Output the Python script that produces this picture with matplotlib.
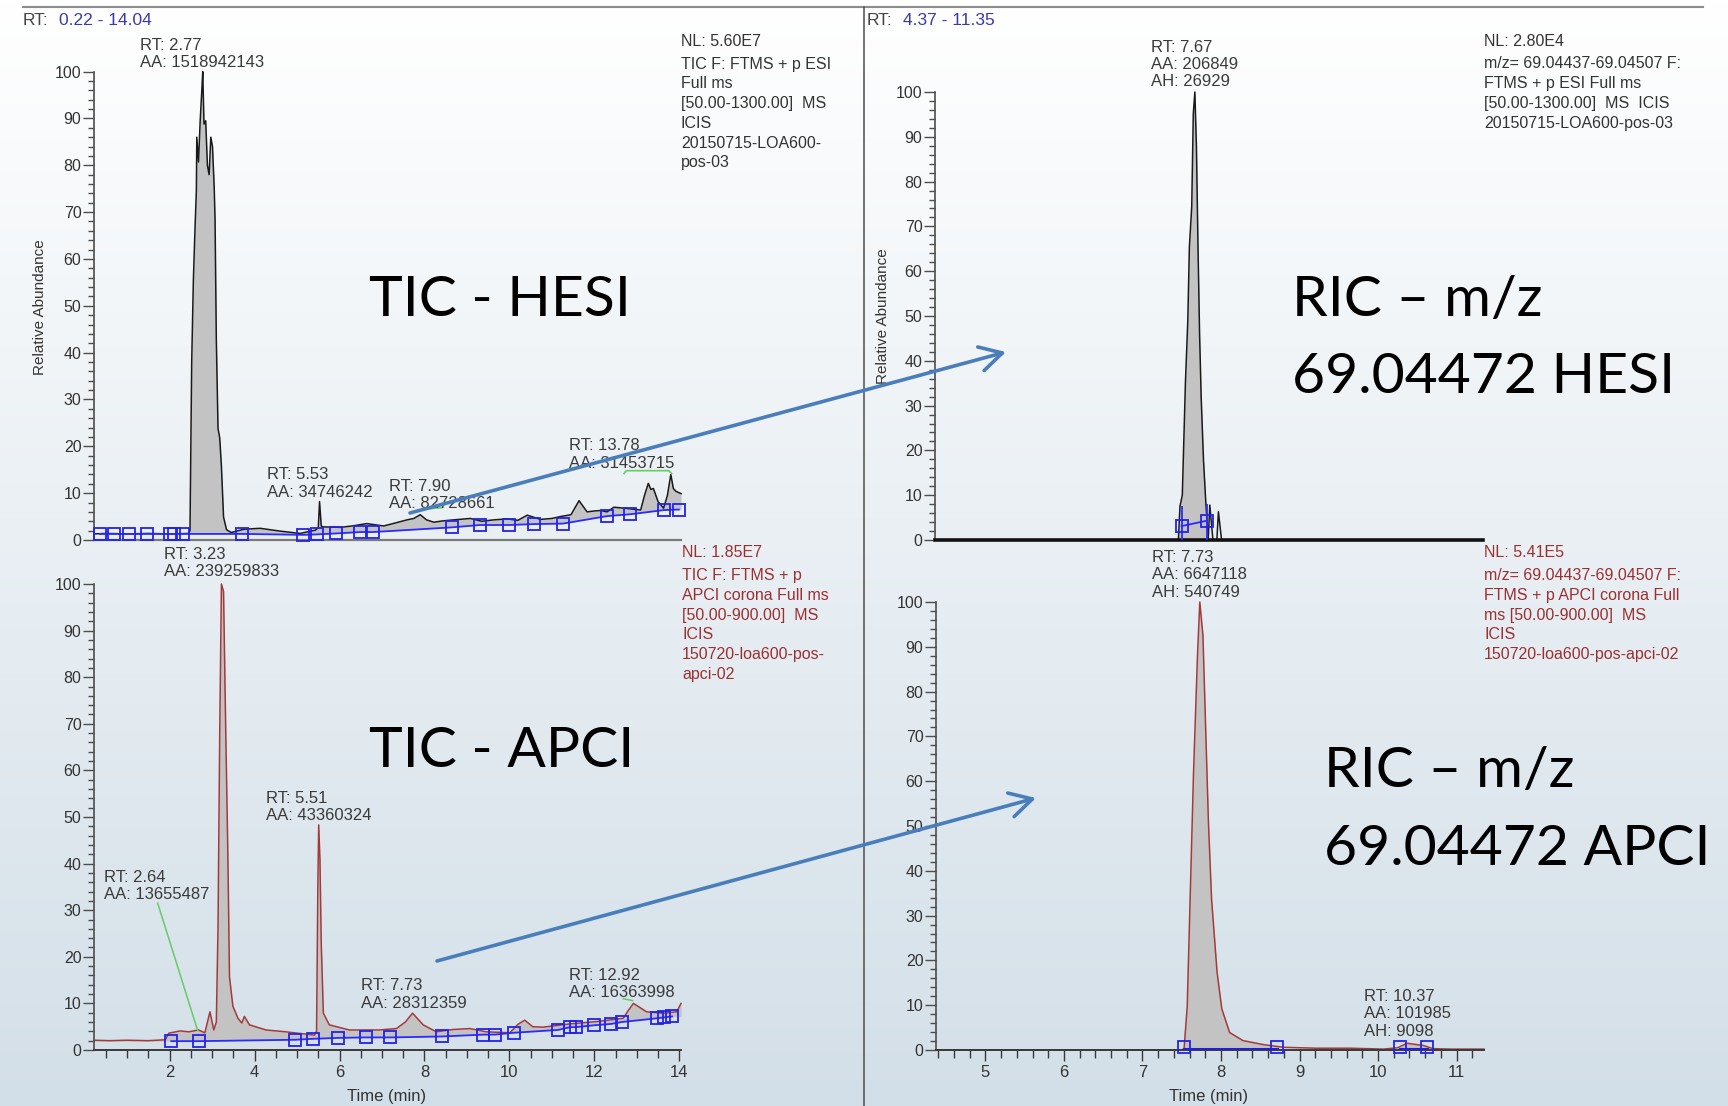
import matplotlib.pyplot as plt
import numpy as np
from matplotlib.colors import LinearSegmentedColormap
from matplotlib.lines import Line2D
from matplotlib.patches import FancyArrowPatch
from matplotlib.ticker import MultipleLocator

plt.rcParams['font.family'] = ['Liberation Sans', 'DejaVu Sans']

W, H = 1728, 1106

# TIC, HESI source (time in min, relative abundance in %)
hesi_tic_t = [0.22, 0.5, 1.0, 1.5, 2.0, 2.45, 2.48, 2.52, 2.56, 2.60, 2.63, 2.64, 2.68, 2.72,
              2.76, 2.78, 2.81, 2.85, 2.89, 2.93, 2.97, 3.01, 3.05, 3.07, 3.10, 3.14, 3.18,
              3.22, 3.27, 3.34, 3.45, 3.75, 4.13, 4.60, 5.07, 5.43, 5.50, 5.53, 5.57, 5.61,
              6.02, 6.30, 6.64, 7.04, 7.30, 7.59, 7.75, 7.90, 8.05, 8.22, 8.45, 8.69, 9.08,
              9.35, 9.63, 9.95, 10.20, 10.42, 10.73, 11.00, 11.20, 11.45, 11.64, 11.75, 11.83,
              12.00, 12.15, 12.30, 12.46, 12.70, 12.90, 13.09, 13.18, 13.27, 13.33, 13.39,
              13.50, 13.63, 13.72, 13.80, 13.86, 13.92, 14.04]
hesi_tic_v = [1.3, 1.4, 1.3, 1.4, 1.3, 1.4, 2.0, 38.0, 55.7, 67.0, 74.6, 86.0, 80.7, 89.5,
              96.3, 100.0, 88.8, 89.5, 80.0, 78.0, 86.0, 84.0, 75.3, 68.5, 42.8, 23.8, 21.8,
              15.7, 4.9, 2.2, 1.6, 2.3, 2.5, 1.9, 1.4, 2.1, 2.6, 8.2, 3.0, 2.8,
              2.7, 3.0, 3.5, 3.0, 3.6, 4.3, 4.6, 5.4, 4.3, 3.8, 4.1, 4.3, 4.6,
              4.0, 4.3, 4.5, 4.2, 5.3, 4.4, 4.6, 5.0, 5.4, 8.4, 7.0, 6.0,
              6.2, 6.3, 6.0, 7.0, 6.8, 6.6, 6.4, 9.5, 12.1, 10.8, 11.0,
              8.2, 6.8, 9.5, 14.0, 11.0, 10.4, 9.9]
hesi_tic_base_t = [0.36, 0.69, 1.04, 1.47, 2.01, 2.10, 2.32, 3.71, 5.15, 5.47, 5.92, 6.49,
                   6.79, 8.65, 9.30, 10.00, 10.58, 11.26, 12.30, 12.85, 13.65, 13.99]
hesi_tic_base_v = [1.3, 1.3, 1.3, 1.3, 1.3, 1.3, 1.3, 1.3, 1.1, 1.2, 1.4, 1.7,
                   1.7, 2.7, 3.2, 3.2, 3.4, 3.5, 5.1, 5.5, 6.4, 6.5]

# TIC, APCI source
apci_tic_t = [0.22, 0.6, 1.0, 1.5, 1.9, 1.98, 2.25, 2.45, 2.68, 2.83, 2.95, 3.04, 3.10, 3.14,
              3.18, 3.22, 3.27, 3.32, 3.37, 3.41, 3.49, 3.61, 3.70, 3.76, 3.88, 4.27, 4.74,
              5.41, 5.46, 5.49, 5.51, 5.54, 5.57, 5.62, 5.76, 6.23, 6.72, 6.93, 7.34, 7.55,
              7.72, 7.97, 8.28, 8.67, 9.07, 9.46, 10.01, 10.20, 10.36, 10.55, 10.79, 11.42,
              12.05, 12.68, 12.80, 12.92, 13.23, 13.62, 13.94, 14.04]
apci_tic_v = [2.1, 2.0, 2.1, 2.0, 2.2, 3.6, 4.1, 3.9, 4.3, 3.7, 8.2, 4.3, 6.0, 26.4,
              68.0, 100.0, 98.4, 69.4, 42.9, 15.7, 9.4, 6.8, 5.8, 7.2, 5.4, 4.3, 3.9,
              3.2, 4.0, 35.0, 48.3, 40.8, 22.9, 7.9, 5.4, 4.3, 4.3, 4.3, 4.6, 6.0,
              7.9, 5.4, 3.9, 4.4, 4.6, 3.9, 3.7, 5.5, 6.4, 5.0, 4.9, 5.6,
              6.1, 6.8, 8.5, 10.0, 8.2, 7.9, 8.2, 10.0]
apci_tic_base_t = [2.04, 2.69, 4.96, 5.38, 5.97, 6.62, 7.20, 8.41, 9.39, 9.65, 10.10, 11.14,
                   11.43, 11.56, 11.99, 12.40, 12.64, 13.47, 13.64, 13.83]
apci_tic_base_v = [1.9, 1.9, 2.2, 2.4, 2.6, 2.7, 2.7, 2.9, 3.3, 3.3, 3.7, 4.3,
                   4.9, 4.9, 5.3, 5.6, 6.0, 6.8, 7.0, 7.2]

# RIC m/z 69.04472, HESI source
hesi_ric_t = [4.37, 7.45, 7.47, 7.49, 7.52, 7.54, 7.56, 7.59, 7.61, 7.64, 7.66, 7.68, 7.70,
              7.72, 7.74, 7.76, 7.79, 7.82, 7.85, 7.87, 7.91, 7.96, 7.98, 8.02, 11.35]
hesi_ric_v = [0, 0, 0, 7.5, 10.0, 22.6, 35.3, 49.0, 65.4, 74.4, 95.2, 100.0, 87.8,
              65.4, 46.0, 32.0, 17.8, 8.2, 0, 7.8, 0, 0, 6.3, 0, 0]
hesi_ric_base_t = [7.51, 7.83]
hesi_ric_base_v = [3.1, 4.3]

# RIC m/z 69.04472, APCI source
apci_ric_t = [4.37, 7.50, 7.53, 7.57, 7.61, 7.65, 7.70, 7.73, 7.77, 7.80, 7.84, 7.88, 7.95,
              8.01, 8.11, 8.28, 8.54, 8.80, 9.22, 9.65, 10.07, 10.25, 10.37, 10.58, 10.70,
              10.92, 11.35]
apci_ric_v = [0, 0, 0.3, 9.7, 35.7, 61.8, 87.8, 100.0, 92.6, 74.7, 50.9, 33.7, 17.4,
              9.2, 3.9, 2.1, 1.2, 0.6, 0.4, 0.4, 0.2, 0.5, 1.5, 1.0, 0.3,
              0.2, 0.2]
apci_ric_base_t = [7.53, 8.71, 10.28, 10.63]
apci_ric_base_v = [0.6, 0.6, 0.6, 0.6]

fig = plt.figure(figsize=(W / 100, H / 100), dpi=100)


def fx(x):
    return x / W


def fy(y):
    return 1 - y / H


# soft white-to-blue backdrop
bg = fig.add_axes([0, 0, 1, 1], zorder=-10)
grad = np.linspace(0, 1, 256)[:, None]
bg.imshow(grad, aspect='auto', extent=[0, 1, 0, 1], origin='upper',
          cmap=LinearSegmentedColormap.from_list('bg', ['#ffffff', '#d3dfe8']))
bg.axis('off')


def panel(x0, x1, ytop, ybot, xlim):
    ax = fig.add_axes([fx(x0), fy(ybot), (x1 - x0) / W, (ybot - ytop) / H])
    ax.set_facecolor('none')
    ax.set_xlim(*xlim)
    ax.set_ylim(0, 100)
    for s in ['top', 'right']:
        ax.spines[s].set_visible(False)
    ax.spines['left'].set_color('#4d4d4d')
    ax.spines['left'].set_linewidth(1.2)
    ax.yaxis.set_major_locator(MultipleLocator(10))
    ax.yaxis.set_minor_locator(MultipleLocator(2))
    ax.tick_params(axis='y', which='major', length=8, width=1, color='#4d4d4d',
                   labelsize=11.5, labelcolor='#333333', pad=1)
    ax.tick_params(axis='y', which='minor', length=4, width=1, color='#4d4d4d')
    return ax


ax_tl = panel(94, 681, 71.6, 540, (0.22, 14.04))
ax_tr = panel(935, 1483, 92, 540, (4.37, 11.35))
ax_bl = panel(94, 681, 584, 1050, (0.22, 14.04))
ax_br = panel(936, 1484, 602, 1050, (4.37, 11.35))

# top panels: plain time axis, no ticks
for ax, col, lw in [(ax_tl, '#7a7a7a', 1.6), (ax_tr, '#111111', 2.6)]:
    ax.tick_params(axis='x', which='both', bottom=False, labelbottom=False)
    ax.spines['bottom'].set_color(col)
    ax.spines['bottom'].set_linewidth(lw)

for ax, maj, mnr in [(ax_bl, 2, 0.5), (ax_br, 1, 0.2)]:
    ax.spines['bottom'].set_color('#3a3a3a')
    ax.spines['bottom'].set_linewidth(1.4)
    ax.xaxis.set_major_locator(MultipleLocator(maj))
    ax.xaxis.set_minor_locator(MultipleLocator(mnr))
    ax.tick_params(axis='x', which='major', length=8, width=1, color='#3a3a3a',
                   labelsize=12, labelcolor='#333333', pad=3)
    ax.tick_params(axis='x', which='minor', length=6, width=1, color='#3a3a3a')
ax_bl.set_xticks([2, 4, 6, 8, 10, 12, 14])
ax_br.set_xticks([5, 6, 7, 8, 9, 10, 11])


def draw_tic(ax, t, v, bt, bv, col):
    t = np.array(t)
    v = np.array(v)
    lower = np.interp(t, bt, bv)
    ax.fill_between(t, v, lower, where=v >= lower, interpolate=True,
                    color='#c3c3c3', lw=0, zorder=1)
    ax.plot(t, v, color=col, lw=1.1, zorder=2, clip_on=False)
    ax.plot(bt, bv, color='#2b2bff', lw=1.3, zorder=3)
    ax.plot(bt, bv, ls='none', marker='s', ms=8.5, mfc='none', mec='#2323e6',
            mew=1.3, zorder=4, clip_on=False)


def draw_ric(ax, t, v, bt, bv, col, windows):
    t = np.array(t)
    v = np.array(v)
    for a, b in windows:
        ax.fill_between(t, v, 0, where=(t >= a) & (t <= b), interpolate=True,
                        color='#c3c3c3', lw=0, zorder=1)
    ax.plot(t, v, color=col, lw=1.1, zorder=2, clip_on=False)
    ax.plot(bt, bv, ls='none', marker='s', ms=8.5, mfc='none', mec='#2323e6',
            mew=1.3, zorder=4, clip_on=False)


draw_tic(ax_tl, hesi_tic_t, hesi_tic_v, hesi_tic_base_t, hesi_tic_base_v, '#1a1a1a')
draw_tic(ax_bl, apci_tic_t, apci_tic_v, apci_tic_base_t, apci_tic_base_v, '#a33a3a')

draw_ric(ax_tr, hesi_ric_t, hesi_ric_v, hesi_ric_base_t, hesi_ric_base_v, '#1a1a1a',
         [(7.46, 7.85)])
ax_tr.plot(hesi_ric_base_t, hesi_ric_base_v, color='#2b2bff', lw=1.3, zorder=3)
ax_tr.vlines(hesi_ric_base_t, 0, [7.5, 8.0], color='#2b2bff', lw=1.3, zorder=3)

draw_ric(ax_br, apci_ric_t, apci_ric_v, apci_ric_base_t, apci_ric_base_v, '#a33a3a',
         [(7.5, 8.72), (10.28, 10.63)])
ax_br.plot(apci_ric_base_t[:2], [0.3, 0.3], color='#2222cc', lw=2.2, zorder=3)
ax_br.plot(apci_ric_base_t[2:], [0.3, 0.3], color='#2222cc', lw=2.2, zorder=3)


# peak labels: centre time, baseline of last line (in %)
def peak_label(ax, t, v, text):
    ax.text(t, v, text, ha='center', va='bottom', multialignment='left',
            fontsize=12, color='#3a3a3a', linespacing=1.2, clip_on=False, zorder=6)


peak_label(ax_tl, 2.77, 100.3, 'RT: 2.77\nAA: 1518942143')
peak_label(ax_tl, 5.54, 8.6, 'RT: 5.53\nAA: 34746242')
peak_label(ax_tl, 8.40, 6.2, 'RT: 7.90\nAA: 82728661')
peak_label(ax_tl, 12.64, 14.8, 'RT: 13.78\nAA: 31453715')
peak_label(ax_bl, 3.22, 101.0, 'RT: 3.23\nAA: 239259833')
peak_label(ax_bl, 1.70, 31.7, 'RT: 2.64\nAA: 13655487')
peak_label(ax_bl, 5.52, 48.7, 'RT: 5.51\nAA: 43360324')
peak_label(ax_bl, 7.74, 8.4, 'RT: 7.73\nAA: 28312359')
peak_label(ax_bl, 12.64, 10.7, 'RT: 12.92\nAA: 16363998')
peak_label(ax_tr, 7.68, 100.6, 'RT: 7.67\nAA: 206849\nAH: 26929')
peak_label(ax_br, 7.73, 100.5, 'RT: 7.73\nAA: 6647118\nAH: 540749')
peak_label(ax_br, 10.37, 2.5, 'RT: 10.37\nAA: 101985\nAH: 9098')

# green leader lines of the integration labels
ax_tl.plot([12.70, 12.75, 13.75, 13.82], [14.2, 14.8, 14.8, 14.2], color='#66cc66', lw=1.2, zorder=5)
ax_tl.plot([8.01, 8.41], [6.6, 6.9], color='#66cc66', lw=1.2, zorder=5)
ax_bl.plot([1.72, 2.66], [31.5, 4.2], color='#66cc66', lw=1.1, zorder=5)
ax_bl.plot([12.68, 12.90], [11.0, 10.6], color='#66cc66', lw=1.1, zorder=5)

# axis titles
fig.text(fx(40), fy(307), 'Relative Abundance', rotation=90, ha='center', va='center',
         fontsize=11, color='#333333')
fig.text(fx(883), fy(316), 'Relative Abundance', rotation=90, ha='center', va='center',
         fontsize=11, color='#333333')
fig.text(fx(387), fy(1096), 'Time (min)', ha='center', va='center', fontsize=12, color='#333333')
fig.text(fx(1209), fy(1096), 'Time (min)', ha='center', va='center', fontsize=12, color='#333333')

# time range headers
for x0, rng in [(23, '0.22 - 14.04'), (867, '4.37 - 11.35')]:
    fig.text(fx(x0), fy(25), 'RT:', fontsize=12.5, color='#444444', va='baseline')
    fig.text(fx(x0 + 36), fy(25), rng, fontsize=12.5, color='#3a3aa8', va='baseline')

# scan info blocks
info_top = ['NL: 5.60E7', 'TIC F: FTMS + p ESI', 'Full ms', '[50.00-1300.00]  MS', 'ICIS',
            '20150715-LOA600-', 'pos-03']
info_tr = ['NL: 2.80E4', 'm/z= 69.04437-69.04507 F:', 'FTMS + p ESI Full ms',
           '[50.00-1300.00]  MS  ICIS', '20150715-LOA600-pos-03']
info_bl = ['NL: 1.85E7', 'TIC F: FTMS + p', 'APCI corona Full ms', '[50.00-900.00]  MS', 'ICIS',
           '150720-loa600-pos-', 'apci-02']
info_br = ['NL: 5.41E5', 'm/z= 69.04437-69.04507 F:', 'FTMS + p APCI corona Full',
           'ms [50.00-900.00]  MS', 'ICIS', '150720-loa600-pos-apci-02']


def info_block(x0, y0, lines, col):
    for i, s in enumerate(lines):
        y = y0 + (0 if i == 0 else 23 + 19.8 * (i - 1))
        fig.text(fx(x0), fy(y), s, fontsize=11.5, color=col, va='baseline')


info_block(681, 45.5, info_top, '#333333')
info_block(1484, 45.5, info_tr, '#333333')
info_block(682, 557, info_bl, '#9b3030')
info_block(1484, 557, info_br, '#9b3030')

# large titles
big = dict(family=['Lato', 'DejaVu Sans'], fontsize=41, color='black', va='baseline', ha='left')
fig.text(fx(369), fy(316), 'TIC - HESI', **big)
fig.text(fx(369), fy(767), 'TIC - APCI', **big)
fig.text(fx(1292), fy(316), 'RIC – m/z', **big)
fig.text(fx(1292), fy(393), '69.04472 HESI', **big)
fig.text(fx(1324), fy(787), 'RIC – m/z', **big)
fig.text(fx(1324), fy(865), '69.04472 APCI', **big)

# frame lines
fig.add_artist(Line2D([fx(23), fx(1703)], [fy(7), fy(7)], color='#8c8c8c', lw=1.5))
fig.add_artist(Line2D([fx(864), fx(864)], [fy(7), fy(1106)], color='#5a5a5a', lw=1.2))

# arrows linking each TIC to its RIC
for (xa, ya), (xb, yb) in [((410, 513), (1006, 352)), ((437, 961), (1036, 798))]:
    arr = FancyArrowPatch((fx(xa), fy(ya)), (fx(xb), fy(yb)), transform=fig.transFigure,
                          arrowstyle='->,head_length=1.0,head_width=0.55', mutation_scale=16,
                          color='#4a7ebb', lw=2.6, shrinkA=0, shrinkB=0, zorder=20)
    fig.add_artist(arr)

fig.savefig('out.png', dpi=100)
